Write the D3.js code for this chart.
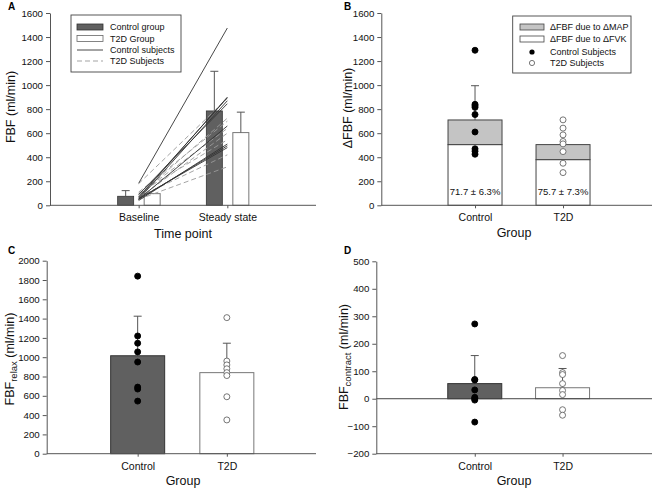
<!DOCTYPE html>
<html><head><meta charset="utf-8">
<script src="https://cdn.jsdelivr.net/npm/d3@7"></script>
<style>
body{margin:0;background:#fff;}
svg{display:block;font-family:"Liberation Sans",Arial,sans-serif;}
</style></head>
<body><svg id="c" width="654" height="489"></svg>
<script>
// ---------- DATA ----------
const timePoints = ["Baseline", "Steady state"];
const groups = ["Control", "T2D"];
const ticksA = [0,200,400,600,800,1000,1200,1400,1600];
const ticksB = [0,200,400,600,800,1000,1200,1400,1600];
const ticksC = [0,200,400,600,800,1000,1200,1400,1600,1800,2000];
const ticksD = [-200,-100,0,100,200,300,400,500];

// Panel A: group means and upper error (mean + SD)
const ctrlMeanA = [75, 785];
const ctrlErrA  = [122, 1115];
const t2dMeanA  = [97, 605];
const t2dErrA   = [null, 775];
// Panel A: individual subjects (baseline, steady state)
const ctrlSubjBase   = [183, 60, 70, 50, 90, 50, 40, 50, 55];
const ctrlSubjSteady = [1475, 900, 895, 870, 845, 660, 510, 495, 480];
const t2dSubjBase    = [180, 80, 110, 90, 60, 100, 70, 50];
const t2dSubjSteady  = [890, 725, 700, 640, 600, 545, 420, 320];

// Panel B: stacked ΔFBF (due to ΔFVK + due to ΔMAP), error, subjects
const dueFVK = [505, 380];
const dueMAP = [205, 125];
const errB = [995, null];
const pctLabels = ["71.7 \u00b1 6.3%", "75.7 \u00b1 7.3%"];
const ctrlDotsB = [1290, 840, 828, 815, 755, 610, 470, 450, 425];
const t2dDotsB  = [711, 642, 586, 531, 511, 447, 350, 272];

// Panel C: FBF relax
const meanC = [1015, 840];
const errC = [1425, 1145];
const ctrlDotsC = [1840, 1220, 1145, 1055, 950, 690, 670, 545];
const t2dDotsC  = [1410, 960, 920, 880, 840, 810, 590, 350];

// Panel D: FBF contract
const meanD = [55, 40];
const errD = [157, 110];
const ctrlDotsD = [272, 70, 68, 32, 5, 0, -5, -85];
const t2dDotsD  = [157, 95, 88, 55, 30, 15, -40, -60];

// ---------- STYLE ----------
const AX = "#555";
const DARK = "#606060";
const svg = d3.select("#c");

function yAxis(g, y, x0, ticks){
  const ax = g.append("g").attr("transform",`translate(${x0},0)`)
    .call(d3.axisLeft(y).tickValues(ticks).tickSize(4).tickSizeOuter(0).tickFormat(d=>d<0?"\u2212"+(-d):d));
  ax.select(".domain").attr("stroke",AX);
  ax.selectAll(".tick line").attr("stroke",AX);
  ax.selectAll(".tick text").attr("font-size",9.7).attr("fill","#111").attr("font-family","Liberation Sans, Arial, sans-serif");
  return ax;
}
function xAxis(g, x, yPos, x0, x1){
  g.append("line").attr("x1",x0).attr("x2",x1).attr("y1",yPos).attr("y2",yPos).attr("stroke",AX);
  const ax = g.append("g").attr("transform",`translate(0,${yPos})`)
    .call(d3.axisBottom(x).tickSize(3).tickSizeOuter(0));
  ax.select(".domain").remove();
  ax.selectAll(".tick line").attr("stroke",AX);
  ax.selectAll(".tick text").attr("font-size",10.5).attr("fill","#111").attr("dy","0.95em").attr("font-family","Liberation Sans, Arial, sans-serif");
}
function errBar(g, x, yTop, yBase, cap){
  g.append("line").attr("x1",x).attr("x2",x).attr("y1",yTop).attr("y2",yBase).attr("stroke",AX).attr("stroke-width",1);
  g.append("line").attr("x1",x-cap).attr("x2",x+cap).attr("y1",yTop).attr("y2",yTop).attr("stroke",AX).attr("stroke-width",1);
}
function panelLabel(t,x,y){
  svg.append("text").attr("x",x).attr("y",y).text(t).attr("font-weight","bold").attr("font-size",10);
}
function yTitle(parts, cx, cy){
  const t = svg.append("text").attr("transform",`translate(${cx},${cy}) rotate(-90)`)
    .attr("text-anchor","middle").attr("font-size",12.5).attr("fill","#111");
  parts.forEach(p=>{
    const s = t.append("tspan").text(p.t);
    if(p.sub){ s.attr("font-size",9.5).attr("baseline-shift","-25%"); }
  });
}
function xTitle(t, cx, cy){
  svg.append("text").attr("x",cx).attr("y",cy).attr("text-anchor","middle").attr("font-size",12.5).attr("fill","#111").text(t);
}
function dots(g, x, y, vals, filled){
  g.selectAll(null).data(vals).enter().append("circle")
    .attr("cx",x).attr("cy",d=>y(d)).attr("r",3)
    .attr("fill",filled?"#000":"#fff").attr("stroke",filled?"#000":"#666").attr("stroke-width",0.9);
}

// ---------- PANEL A ----------
(function(){
  const g = svg.append("g");
  const x0=50, x1=316;
  const x = d3.scalePoint().domain(timePoints).range([x0,x1]).padding(1);
  const y = d3.scaleLinear().domain([0,1600]).range([205.3,13]);
  const bw=16, off=13;
  timePoints.forEach((tp,i)=>{
    g.append("rect").attr("x",x(tp)-off-bw/2).attr("width",bw).attr("y",y(ctrlMeanA[i])).attr("height",y(0)-y(ctrlMeanA[i]))
      .attr("fill",DARK).attr("stroke","#333").attr("stroke-width",0.8);
    g.append("rect").attr("x",x(tp)+off+0.5-bw/2).attr("width",bw).attr("y",y(t2dMeanA[i])).attr("height",y(0)-y(t2dMeanA[i]))
      .attr("fill","#fff").attr("stroke","#777").attr("stroke-width",1);
  });
  // subject lines
  t2dSubjBase.forEach((b,i)=>{
    g.append("line").attr("x1",x(timePoints[0])).attr("y1",y(b)).attr("x2",x(timePoints[1])).attr("y2",y(t2dSubjSteady[i]))
      .attr("stroke","#9a9a9a").attr("stroke-width",0.9).attr("stroke-dasharray","5,3");
  });
  ctrlSubjBase.forEach((b,i)=>{
    g.append("line").attr("x1",x(timePoints[0])).attr("y1",y(b)).attr("x2",x(timePoints[1])).attr("y2",y(ctrlSubjSteady[i]))
      .attr("stroke","#333").attr("stroke-width",0.9);
  });
  timePoints.forEach((tp,i)=>{
    if(ctrlErrA[i]!=null) errBar(g, x(tp)-off, y(ctrlErrA[i]), y(ctrlMeanA[i]), 4);
    if(t2dErrA[i]!=null) errBar(g, x(tp)+off+0.5, y(t2dErrA[i]), y(t2dMeanA[i]), 4);
  });
  yAxis(g, y, x0, ticksA);
  xAxis(g, x, y(0), x0, x1);
  // legend
  const L = g.append("g");
  L.append("rect").attr("x",71).attr("y",15).attr("width",110).attr("height",57).attr("fill","#fff").attr("stroke","#444").attr("stroke-width",0.9);
  const rows=[27,38.5,50,61];
  L.append("rect").attr("x",77).attr("y",rows[0]-3).attr("width",26).attr("height",6).attr("fill",DARK).attr("stroke","#333").attr("stroke-width",0.8);
  L.append("rect").attr("x",77).attr("y",rows[1]-3).attr("width",26).attr("height",6).attr("fill","#fff").attr("stroke","#666").attr("stroke-width",0.8);
  L.append("line").attr("x1",77).attr("x2",103).attr("y1",rows[2]).attr("y2",rows[2]).attr("stroke","#333").attr("stroke-width",0.9);
  L.append("line").attr("x1",77).attr("x2",103).attr("y1",rows[3]).attr("y2",rows[3]).attr("stroke","#999").attr("stroke-width",0.9).attr("stroke-dasharray","5,3");
  ["Control group","T2D Group","Control subjects","T2D Subjects"].forEach((t,i)=>{
    L.append("text").attr("x",110).attr("y",rows[i]).attr("dy","0.35em").attr("font-size",9).attr("fill","#111").text(t);
  });
  panelLabel("A",8,10);
  yTitle([{t:"FBF (ml/min)"}], 15, 107);
  xTitle("Time point", 183, 238);
})();

// ---------- PANEL B ----------
(function(){
  const g = svg.append("g");
  const x0=381.3, x1=652;
  const x = d3.scalePoint().domain(groups).range([x0,x1]).padding(1.038).align(0.513);
  const y = d3.scaleLinear().domain([0,1600]).range([205.3,13]);
  const bw=54;
  groups.forEach((gr,i)=>{
    g.append("rect").attr("x",x(gr)-bw/2).attr("width",bw).attr("y",y(dueFVK[i])).attr("height",y(0)-y(dueFVK[i]))
      .attr("fill","#fff").attr("stroke","#444").attr("stroke-width",1);
    g.append("rect").attr("x",x(gr)-bw/2).attr("width",bw).attr("y",y(dueFVK[i]+dueMAP[i])).attr("height",y(dueFVK[i])-y(dueFVK[i]+dueMAP[i]))
      .attr("fill","#c4c4c4").attr("stroke","#444").attr("stroke-width",1);
    if(errB[i]!=null) errBar(g, x(gr), y(errB[i]), y(dueFVK[i]+dueMAP[i]), 4);
    g.append("text").attr("x",x(gr)).attr("y",y(0)-10).attr("text-anchor","middle").attr("font-size",9.5).attr("fill","#111").text(pctLabels[i]);
  });
  dots(g, x("Control"), y, ctrlDotsB, true);
  dots(g, x("T2D"), y, t2dDotsB, false);
  yAxis(g, y, x0, ticksB);
  xAxis(g, x, y(0), x0, x1);
  const L = g.append("g");
  L.append("rect").attr("x",512.7).attr("y",16).attr("width",118.3).attr("height",57).attr("fill","#fff").attr("stroke","#444").attr("stroke-width",0.9);
  const rows=[27,39,52,63];
  L.append("rect").attr("x",520).attr("y",rows[0]-3).attr("width",24).attr("height",6).attr("fill","#c4c4c4").attr("stroke","#444").attr("stroke-width",0.8);
  L.append("rect").attr("x",520).attr("y",rows[1]-3).attr("width",24).attr("height",6).attr("fill","#fff").attr("stroke","#444").attr("stroke-width",0.8);
  L.append("circle").attr("cx",532).attr("cy",rows[2]).attr("r",2.6).attr("fill","#000");
  L.append("circle").attr("cx",532).attr("cy",rows[3]).attr("r",2.6).attr("fill","#fff").attr("stroke","#666").attr("stroke-width",0.9);
  ["\u0394FBF due to \u0394MAP","\u0394FBF due to \u0394FVK","Control Subjects","T2D Subjects"].forEach((t,i)=>{
    L.append("text").attr("x",550).attr("y",rows[i]).attr("dy","0.35em").attr("font-size",9).attr("fill","#111").text(t);
  });
  panelLabel("B",344,10);
  yTitle([{t:"\u0394FBF (ml/min)"}], 351.5, 108);
  xTitle("Group", 514, 237);
})();

// ---------- PANEL C ----------
(function(){
  const g = svg.append("g");
  const x0=46.7, x1=316;
  const x = d3.scalePoint().domain(groups).range([x0,x1]).padding(1.01).align(0.505);
  const y = d3.scaleLinear().domain([0,2000]).range([453.7,260.7]);
  const bw=54;
  const fills=[DARK,"#fff"], strokes=["#333","#777"];
  groups.forEach((gr,i)=>{
    g.append("rect").attr("x",x(gr)-bw/2).attr("width",bw).attr("y",y(meanC[i])).attr("height",y(0)-y(meanC[i]))
      .attr("fill",fills[i]).attr("stroke",strokes[i]).attr("stroke-width",1);
    errBar(g, x(gr), y(errC[i]), y(meanC[i]), 4);
  });
  dots(g, x("Control"), y, ctrlDotsC, true);
  dots(g, x("T2D"), y, t2dDotsC, false);
  yAxis(g, y, x0, ticksC);
  xAxis(g, x, y(0), x0, x1);
  panelLabel("C",8,254);
  yTitle([{t:"FBF"},{t:"relax",sub:true},{t:" (ml/min)"}], 14, 359);
  xTitle("Group", 183, 485);
})();

// ---------- PANEL D ----------
(function(){
  const g = svg.append("g");
  const x0=376.3, x1=652;
  const x = d3.scalePoint().domain(groups).range([x0,x1]).padding(1.07).align(0.524);
  const y = d3.scaleLinear().domain([-200,500]).range([453.7,261.3]);
  const bw=54;
  const fills=[DARK,"#fff"], strokes=["#333","#777"];
  groups.forEach((gr,i)=>{
    g.append("rect").attr("x",x(gr)-bw/2).attr("width",bw).attr("y",y(meanD[i])).attr("height",y(0)-y(meanD[i]))
      .attr("fill",fills[i]).attr("stroke",strokes[i]).attr("stroke-width",1);
    errBar(g, x(gr), y(errD[i]), y(meanD[i]), 4);
  });
  g.append("line").attr("x1",x0).attr("x2",x1).attr("y1",y(0)).attr("y2",y(0)).attr("stroke","#444").attr("stroke-width",1);
  dots(g, x("Control"), y, ctrlDotsD, true);
  dots(g, x("T2D"), y, t2dDotsD, false);
  yAxis(g, y, x0, ticksD);
  xAxis(g, x, y(-200), x0, x1);
  panelLabel("D",344,254);
  yTitle([{t:"FBF"},{t:"contract",sub:true},{t:" (ml/min)"}], 348, 357);
  xTitle("Group", 514, 485);
})();
</script></body></html>
